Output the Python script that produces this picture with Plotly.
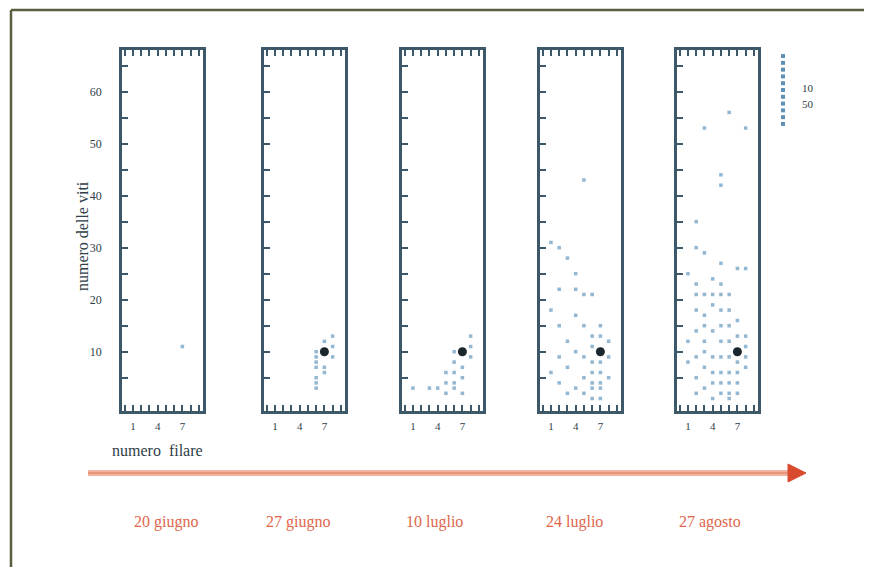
import plotly.graph_objects as go

W, H = 872, 567
OX, OY = 8, 8  # page body margin offset

dates = ["20 giugno", "27 giugno", "10 luglio", "24 luglio", "27 agosto"]

# infected vines: (row = numero filare, vine = numero delle viti)
p1_rows = [7]
p1_vines = [11]

p2_rows = [8, 7, 6, 6, 6, 7, 6, 7, 6, 6, 6, 8, 8]
p2_vines = [13, 12, 10, 9, 8, 7, 7, 6, 5, 4, 3, 9, 11]

p3_rows = [8, 8, 6, 6, 5, 5, 6, 6, 7, 7, 6, 4, 1, 3, 8, 7, 5]
p3_vines = [13, 9, 8, 6, 6, 4, 3, 4, 5, 7, 10, 3, 3, 3, 11, 2, 2]

p4_rows = [1, 2, 4, 2, 4, 5, 6, 5, 3, 5, 6, 7, 6, 7, 6, 7, 6, 7, 6, 7, 4, 3, 5,
           8, 8, 1, 2, 3, 4, 5, 6, 7, 4, 2, 1, 3, 5, 8, 2, 6, 7]
p4_vines = [31, 30, 25, 22, 22, 21, 21, 43, 28, 15, 13, 13, 8, 8, 6, 6, 4, 4, 3, 3, 3, 2, 2,
            12, 9, 18, 15, 12, 10, 9, 11, 15, 17, 9, 6, 7, 5, 5, 4, 1, 1]

p5_rows = [6, 3, 8, 5, 5, 2, 2, 3, 5, 7, 8, 4, 5, 2, 2, 3, 4, 5, 6, 5, 2, 3, 4, 5, 6, 7,
           3, 5, 6, 8, 2, 4, 5, 6, 7, 8, 3, 4, 5, 6, 7, 2, 4, 5, 6, 7, 3, 5, 6, 7, 4, 6,
           2, 1, 2, 7, 8, 8, 1, 3, 6, 4, 1, 3]
p5_vines = [56, 53, 53, 44, 42, 35, 30, 29, 27, 26, 26, 24, 23, 23, 21, 21, 21, 21, 21, 18, 18, 15, 14, 15, 15, 16,
            12, 12, 12, 13, 9, 9, 9, 9, 8, 9, 7, 6, 6, 6, 6, 5, 4, 4, 4, 4, 3, 2, 2, 2, 1, 1,
            2, 12, 14, 13, 11, 7, 25, 17, 18, 19, 8, 10]

# main focus (large dot) per panel (None for first date)
focus_rows = [None, 7, 7, 7, 7]
focus_vines = [None, 10, 10, 10, 10]

panels_rows = [p1_rows, p2_rows, p3_rows, p4_rows, p5_rows]
panels_vines = [p1_vines, p2_vines, p3_vines, p4_vines, p5_vines]

x_ticks = [0, 1, 2, 3, 4, 5, 6, 7, 8, 9]
x_labels = ["", "1", "", "", "4", "", "", "7", "", ""]
y_ticks = [5, 10, 15, 20, 25, 30, 35, 40, 45, 50, 55, 60, 65]
y_labels = ["", "10", "", "20", "", "30", "", "40", "", "50", "", "60", ""]

legend_levels = [1, 2, 3, 4, 5, 6, 7, 8, 9, 10, 11]
legend_texts = ["10", "50"]

# panel pixel boxes (screen coordinates)
panel_left = [122, 264, 402, 540, 677]
panel_w = 81
panel_top, panel_bot = 50, 411

frame_col = "#3d5868"
dot_col = "#6f9dc2"
text_col = "#2f3e48"
date_col = "#e0664a"


def fx(x):
    return (x - OX) / W


def fy(y):
    return 1 - (y - OY) / H


fig = go.Figure()
layout = dict(
    width=W, height=H, margin=dict(l=0, r=0, t=0, b=0),
    paper_bgcolor="white", plot_bgcolor="white", showlegend=False,
    font=dict(family="Liberation Serif", color=text_col, size=11),
)

for i in range(5):
    n = "" if i == 0 else str(i + 1)
    xa = "x" + n
    ya = "y" + n
    fig.add_trace(go.Scatter(
        x=panels_rows[i], y=panels_vines[i], mode="markers",
        marker=dict(symbol="square", size=3.5, color=dot_col, opacity=0.75),
        xaxis=xa, yaxis=ya, hoverinfo="skip"))
    if focus_rows[i] is not None:
        fig.add_trace(go.Scatter(
            x=[focus_rows[i]], y=[focus_vines[i]], mode="markers",
            marker=dict(symbol="circle", size=9, color="#1c262d"),
            xaxis=xa, yaxis=ya, hoverinfo="skip"))
    layout["xaxis" + n] = dict(
        domain=[fx(panel_left[i]), fx(panel_left[i] + panel_w)], range=[-0.33, 9.5], anchor=ya,
        tickmode="array", tickvals=x_ticks, ticktext=x_labels,
        ticks="inside", ticklen=6, tickwidth=1.5, tickcolor=frame_col,
        showline=True, linewidth=2.5, linecolor=frame_col, mirror="ticks",
        showgrid=False, zeroline=False, fixedrange=True,
        tickfont=dict(size=11, color=text_col), ticklabelstandoff=3,
    )
    layout["yaxis" + n] = dict(
        domain=[fy(panel_bot), fy(panel_top)], range=[-1.4, 68], anchor=xa,
        tickmode="array", tickvals=y_ticks,
        ticktext=y_labels if i == 0 else [""] * len(y_ticks),
        ticks="inside", ticklen=6, tickwidth=1.5, tickcolor=frame_col,
        showline=True, linewidth=2.5, linecolor=frame_col, mirror=True,
        showgrid=False, zeroline=False, fixedrange=True,
        tickfont=dict(size=12, color=text_col), ticklabelstandoff=15,
    )

# legend column at top right
fig.add_trace(go.Scatter(
    x=[0.5] * len(legend_levels), y=legend_levels, mode="markers",
    marker=dict(symbol="square", size=4, color="#5f8fb3"),
    xaxis="x6", yaxis="y6", hoverinfo="skip"))
layout["xaxis6"] = dict(domain=[fx(776), fx(790)], range=[0, 1], visible=False, fixedrange=True)
layout["yaxis6"] = dict(domain=[fy(128), fy(52)], range=[11.6, 0.4], visible=False,
                        fixedrange=True, anchor="x6")

fig.update_layout(**layout)

ann = []
# y title
ann.append(dict(x=fx(82), y=fy(236), xref="paper", yref="paper", text="numero delle viti",
                textangle=-90, showarrow=False, xanchor="center", yanchor="middle",
                font=dict(size=16, color=text_col)))
ann.append(dict(x=fx(157), y=fy(450), xref="paper", yref="paper", text="numero  filare",
                showarrow=False, xanchor="center", yanchor="middle",
                font=dict(size=16, color=text_col)))
# legend labels
for t, yy in zip(legend_texts, [88, 104]):
    ann.append(dict(x=fx(800), y=fy(yy), xref="paper", yref="paper", text=t, showarrow=False,
                    xanchor="left", yanchor="middle",
                    font=dict(size=11, color=text_col)))
# date labels
date_x = [166, 298, 434, 574, 710]
for t, xx in zip(dates, date_x):
    ann.append(dict(x=fx(xx), y=fy(522), xref="paper", yref="paper", text=t, showarrow=False,
                    xanchor="center", yanchor="middle",
                    font=dict(size=16, color=date_col)))

shapes = []
# outer frame (top and left edges)
shapes.append(dict(type="line", xref="paper", yref="paper",
                   x0=fx(11), y0=fy(10), x1=1.0, y1=fy(10),
                   line=dict(color="#59603f", width=2.5)))
shapes.append(dict(type="line", xref="paper", yref="paper",
                   x0=fx(11), y0=fy(10), x1=fx(11), y1=0,
                   line=dict(color="#59603f", width=2.5)))
# time arrow
shapes.append(dict(type="line", xref="paper", yref="paper",
                   x0=fx(88), y0=fy(473), x1=fx(792), y1=fy(473),
                   line=dict(color="#f4b3a0", width=6)))
shapes.append(dict(type="line", xref="paper", yref="paper",
                   x0=fx(88), y0=fy(473), x1=fx(792), y1=fy(473),
                   line=dict(color="#e9957c", width=2)))
shapes.append(dict(type="path", xref="paper", yref="paper",
                   path=f"M {fx(788)},{fy(464)} L {fx(806)},{fy(473)} L {fx(788)},{fy(482)} Z",
                   fillcolor="#d94a2e", line=dict(color="#d94a2e", width=1)))

fig.update_layout(annotations=ann, shapes=shapes)
fig.write_html("out.html")
